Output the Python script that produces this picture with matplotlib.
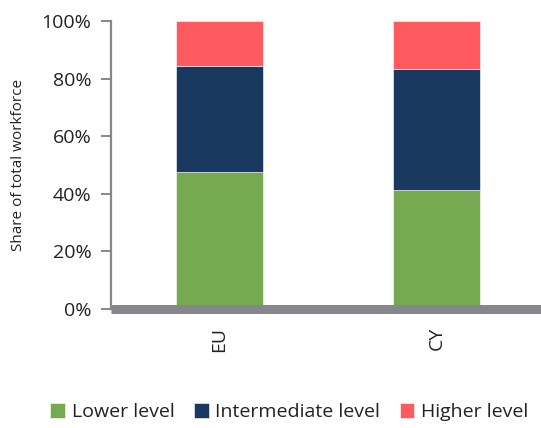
import matplotlib
matplotlib.use('Agg')
import matplotlib.pyplot as plt
from matplotlib.ticker import PercentFormatter

plt.rcParams['font.family'] = ['Open Sans', 'DejaVu Sans']

# shares of total workforce (%)
regions = ['EU', 'CY']
lower = [47.6, 41.4]
intermediate = [36.9, 42.2]
higher = [15.5, 16.4]
series_names = ['Lower level', 'Intermediate level', 'Higher level']
colors = ['#76AA50', '#1A3961', '#FF5A5F']

fig = plt.figure(figsize=(5.41, 4.28), dpi=100)
ax = fig.add_axes([0.205, 0.278, 0.795, 0.672])

x = range(len(regions))
bottom = [0, 0]
for vals, name, c in zip([lower, intermediate, higher], series_names, colors):
    ax.bar(x, vals, width=0.4, bottom=bottom, color=c, label=name,
           edgecolor='white', linewidth=0.4)
    bottom = [b + v for b, v in zip(bottom, vals)]

ax.set_xlim(-0.5, 1.48)
ax.set_ylim(0, 100)
ax.yaxis.set_major_formatter(PercentFormatter(decimals=0))
ax.set_yticks(range(0, 101, 20))
ax.set_xticks(list(x))
ax.set_xticklabels(regions, rotation=90)

gray = '#86878A'
for s in ['top', 'right']:
    ax.spines[s].set_visible(False)
ax.spines['left'].set_color(gray)
ax.spines['left'].set_linewidth(1.6)
ax.spines['left'].set_zorder(5)
ax.spines['bottom'].set_color(gray)
ax.spines['bottom'].set_linewidth(6.5)
ax.spines['bottom'].set_capstyle('butt')
ax.tick_params(axis='y', colors=gray, labelcolor='#222222', labelsize=14,
               length=7, width=1.4, pad=7)
ax.tick_params(axis='x', length=0, labelsize=14, labelcolor='#222222', pad=13)

ax.set_ylabel('Share of total workforce', fontsize=11, color='#222222', labelpad=11)

fig.legend(loc='lower center', bbox_to_anchor=(0.535, -0.025), ncol=3, frameon=False,
           fontsize=14, handlelength=0.75, handleheight=0.75, handletextpad=0.35,
           columnspacing=1.0, labelcolor='#222222')

fig.savefig('out.png', dpi=100)
